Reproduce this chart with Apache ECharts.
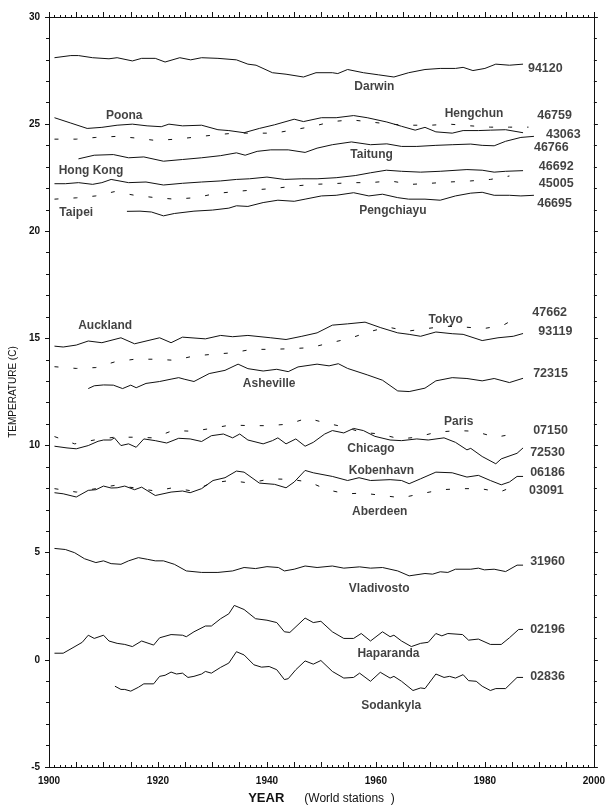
<!DOCTYPE html>
<html>
<head>
<meta charset="utf-8">
<script src="https://cdn.jsdelivr.net/npm/echarts@6/dist/echarts.min.js"></script>
<style>
  html, body { margin: 0; padding: 0; background: #fff; }
  #chart { width: 608px; height: 810px; }
</style>
</head>
<body>
<div id="chart"></div>
<script>
// ---- Data (year, temperature °C) ----
const s94120 = [[1901,28.1],[1904,28.2],[1905.4,28.2],[1908,28.1],[1911,28.05],[1912.5,28.1],[1915.3,27.95],[1917,28.07],[1919.5,28.07],[1921.3,27.9],[1924,28.1],[1926,28.0],[1928,28.1],[1931,28.07],[1934.4,28.0],[1936.5,27.8],[1938,27.75],[1941,27.4],[1943.5,27.33],[1946.7,27.2],[1949,27.4],[1952,27.4],[1953,27.36],[1954.8,27.55],[1957.7,27.4],[1960.5,27.3],[1963.3,27.2],[1966,27.4],[1969,27.55],[1971.8,27.6],[1974.6,27.6],[1976,27.65],[1977.8,27.5],[1980,27.6],[1982,27.8],[1984.5,27.75],[1987,27.8]];
const s43063 = [[1901,25.3],[1904,25.05],[1907,24.8],[1909.7,24.85],[1912.5,24.95],[1915.3,25.0],[1918,24.92],[1920.6,24.88],[1922,25.0],[1924.5,24.92],[1928,24.95],[1931,24.74],[1933,24.7],[1935.8,24.6],[1938.6,24.8],[1941.4,24.97],[1945,25.23],[1946.7,25.12],[1950,25.3],[1952.7,25.3],[1955.9,25.4],[1958.4,25.3],[1962,25.1],[1964.7,24.9],[1967.2,24.72],[1969,24.85],[1971,24.64],[1974,24.58],[1976,24.7],[1978.8,24.7],[1981,24.72],[1983.8,24.74],[1987,24.6]];
const s46759 = [[1901,24.3],[1905,24.3],[1908.6,24.38],[1912.5,24.43],[1916,24.35],[1919.5,24.24],[1923.4,24.3],[1927,24.4],[1930.5,24.5],[1934,24.58],[1937.5,24.58],[1941.4,24.58],[1945,24.74],[1948.5,24.9],[1952,25.12],[1955.5,25.2],[1959,25.1],[1962.6,25.0],[1966,24.95],[1970,24.95],[1973.5,25.0],[1977.4,24.92],[1981,24.86],[1984.5,24.86],[1988,24.86]];
const s46766 = [[1905.4,23.38],[1908.3,23.55],[1911.8,23.58],[1914.6,23.43],[1917.4,23.47],[1921,23.27],[1924.5,23.35],[1928,23.43],[1931.5,23.53],[1934.4,23.66],[1936,23.55],[1938.2,23.73],[1940.7,23.8],[1943.9,23.8],[1947,23.68],[1949.2,23.88],[1952,24.04],[1955.5,24.17],[1959,24.04],[1962,24.08],[1964.7,23.96],[1967.5,23.96],[1971,24.01],[1974,24.04],[1977.4,24.07],[1979.5,24.01],[1981.7,23.99],[1983.8,24.2],[1986.6,24.38],[1989,24.43]];
const s46692 = [[1901,22.22],[1903,22.22],[1905.4,22.27],[1908,22.19],[1909.7,22.27],[1911.4,22.42],[1914.6,22.27],[1917.8,22.3],[1921,22.16],[1924.5,22.24],[1928,22.3],[1931.5,22.35],[1934.4,22.42],[1936.8,22.45],[1940,22.53],[1943.2,22.42],[1946.4,22.45],[1949.2,22.45],[1952.7,22.5],[1956.2,22.6],[1959,22.73],[1961.9,22.85],[1964.7,22.8],[1968.2,22.76],[1971.8,22.8],[1976.7,22.88],[1979.5,22.85],[1981.7,22.76],[1983.8,22.8],[1987,22.83]];
const s45005 = [[1901,21.5],[1905,21.56],[1908.6,21.65],[1912,21.85],[1915.7,21.68],[1919.5,21.57],[1923,21.5],[1927,21.57],[1930.5,21.76],[1934,21.85],[1937.5,21.93],[1941.4,22.0],[1945,22.11],[1948.5,22.19],[1952,22.22],[1955.5,22.27],[1959,22.27],[1962.6,22.35],[1966.5,22.19],[1970,22.24],[1973.5,22.3],[1977.4,22.35],[1981,22.42],[1984.5,22.58]];
const s46695 = [[1914.3,20.93],[1916.7,20.94],[1918.8,20.9],[1921,20.72],[1923,20.83],[1926.6,20.94],[1930,20.99],[1933,21.08],[1934.4,21.19],[1936.5,21.16],[1939.3,21.34],[1942,21.45],[1945,21.4],[1947,21.5],[1950,21.65],[1952.7,21.68],[1955.9,21.8],[1958.7,21.65],[1961.2,21.73],[1964,21.57],[1966,21.5],[1969,21.5],[1971.8,21.45],[1974.6,21.65],[1977.4,21.78],[1979.5,21.82],[1981.7,21.68],[1984.5,21.68],[1986.6,21.65],[1989,21.68]];
const s93119 = [[1901,14.64],[1902.6,14.6],[1905,14.69],[1907.2,14.88],[1909.7,14.8],[1913.2,15.03],[1915.7,14.75],[1920.3,15.03],[1922.4,14.8],[1924.5,15.06],[1928.7,14.98],[1931.5,15.14],[1933.7,15.08],[1936.5,15.14],[1940.7,15.03],[1943.5,14.95],[1946.4,15.1],[1949.2,15.26],[1952,15.62],[1954.8,15.68],[1958,15.76],[1960.9,15.5],[1964,15.26],[1966.1,15.19],[1968.2,15.1],[1971,15.3],[1974,15.22],[1976,15.19],[1979.5,14.9],[1982.4,15.03],[1985.2,15.1],[1987,15.23]];
const s47662 = [[1901,13.68],[1905,13.6],[1908.6,13.64],[1912,13.9],[1915.7,14.03],[1919.5,14.03],[1923,13.98],[1926.6,14.18],[1930,14.26],[1933.7,14.33],[1937.2,14.49],[1940.7,14.49],[1944.3,14.52],[1948,14.57],[1951.7,14.8],[1955.2,15.0],[1958.7,15.31],[1962.2,15.53],[1965.8,15.34],[1969.3,15.46],[1972.8,15.57],[1976.3,15.53],[1979.8,15.46],[1983.4,15.62],[1985.2,15.88]];
const s72315 = [[1907.2,12.66],[1908.3,12.79],[1910,12.83],[1911.8,12.82],[1913.5,12.66],[1915,12.82],[1916,12.7],[1917.8,12.9],[1920.3,12.99],[1922.4,13.1],[1923.8,13.17],[1924.8,13.1],[1926.6,12.99],[1929.4,13.36],[1932.3,13.51],[1934.7,13.8],[1936.5,13.59],[1939.3,13.48],[1941.8,13.56],[1943.9,13.45],[1945.7,13.67],[1949.2,13.8],[1951.4,13.72],[1953.1,13.82],[1954.8,13.6],[1958.4,13.3],[1961.2,13.05],[1964,12.55],[1966.1,12.52],[1969,12.68],[1971,13.02],[1974,13.17],[1976.7,13.13],[1979.5,13.02],[1981.7,13.13],[1984.5,12.94],[1987,13.14]];
const s07150 = [[1901,10.42],[1904.7,10.08],[1908.3,10.26],[1912,10.39],[1915.7,10.39],[1919.2,10.36],[1922.7,10.7],[1926.3,10.67],[1929.8,10.8],[1933.3,10.96],[1936.8,10.93],[1940.4,10.93],[1943.9,11.0],[1947.4,11.28],[1951,11.04],[1954.5,10.85],[1957.3,10.62],[1960.8,10.54],[1964.4,10.31],[1967.5,10.39],[1971,10.62],[1974.9,10.7],[1978,10.67],[1982,10.39],[1985.2,10.54]];
const s72530 = [[1901,9.97],[1903.3,9.89],[1905,9.85],[1907.2,10.0],[1909,10.2],[1910,10.26],[1911.4,10.26],[1912,10.36],[1913.2,10.0],[1914.6,10.08],[1916,9.92],[1917.4,10.31],[1919.5,10.23],[1921.6,10.12],[1923.8,10.34],[1925.9,10.31],[1928,10.19],[1929.8,10.46],[1932,10.54],[1933.7,10.36],[1935,10.54],[1936.5,10.26],[1939.3,10.08],[1941,10.23],[1942,10.36],[1943.5,10.08],[1945.3,10.31],[1947,9.97],[1948.5,10.15],[1950.6,10.54],[1952,10.7],[1954.1,10.59],[1955.9,10.8],[1957.7,10.7],[1959.8,10.43],[1962.6,10.26],[1964.7,10.23],[1967.5,10.31],[1969.6,10.26],[1972.5,10.36],[1974.6,10.15],[1976.7,9.8],[1977.4,9.87],[1979.5,9.49],[1982,9.15],[1983,9.38],[1985.9,9.64],[1987,9.89]];
const s06186 = [[1901,7.8],[1902.6,7.75],[1905,7.6],[1907.2,7.91],[1908.6,7.94],[1910,8.11],[1911.4,8.02],[1912.5,8.03],[1913.9,8.11],[1915.7,7.94],[1917,8.06],[1919.5,7.67],[1922.4,7.83],[1924.5,7.88],[1925.9,7.8],[1928,7.99],[1930.1,8.37],[1932.3,8.5],[1934.4,8.81],[1935.8,8.76],[1938.6,8.25],[1941.4,8.19],[1943.5,8.03],[1945,8.3],[1947,8.84],[1948.5,8.73],[1952,8.56],[1954.8,8.37],[1956.9,8.5],[1959,8.37],[1962.6,8.41],[1964.7,8.37],[1966.1,8.22],[1968.2,8.45],[1971,8.76],[1974,8.73],[1976.7,8.53],[1978.8,8.61],[1981,8.37],[1983,8.17],[1984.5,8.3],[1985.9,8.56],[1987,8.56]];
const s03091 = [[1901,7.99],[1905,7.83],[1908.6,7.99],[1912,8.14],[1915.7,8.03],[1919.5,7.88],[1922.7,8.03],[1926.3,7.88],[1929.8,8.25],[1933.3,8.37],[1936.8,8.25],[1940.7,8.45],[1944.3,8.42],[1947.8,8.3],[1951,7.94],[1954.5,7.75],[1957.7,7.78],[1961.2,7.67],[1964.7,7.56],[1968.2,7.75],[1972.1,7.94],[1975.6,7.99],[1979.2,7.99],[1982.7,7.83],[1986.2,8.19]];
const s31960 = [[1901,5.2],[1903,5.15],[1904.7,5.0],[1906.5,4.72],[1908.6,4.54],[1910,4.62],[1911.4,4.49],[1913.2,4.46],[1914.6,4.62],[1916.4,4.77],[1918.1,4.69],[1919.5,4.62],[1921,4.62],[1923,4.46],[1925.2,4.15],[1928,4.08],[1931,4.08],[1933.7,4.15],[1935.8,4.31],[1937.9,4.26],[1940,4.35],[1942.1,4.31],[1943.2,4.15],[1945,4.23],[1947,4.38],[1949.2,4.31],[1952,4.38],[1954.1,4.28],[1957,4.34],[1959,4.28],[1961.2,4.31],[1964,4.15],[1966.1,3.92],[1969,4.03],[1970.4,4.0],[1971.8,4.11],[1973.2,4.08],[1974.6,4.23],[1977.4,4.23],[1978.8,4.28],[1979.9,4.2],[1981.7,4.23],[1983.8,4.12],[1985.9,4.42],[1987,4.42]];
const s02196 = [[1901,0.31],[1902.6,0.31],[1904.4,0.57],[1906.1,0.82],[1907.2,1.15],[1908.3,1.0],[1910,1.15],[1911,0.88],[1912.5,0.77],[1913.9,0.72],[1915.3,0.62],[1917,0.88],[1919.2,0.69],[1920.3,1.03],[1922.4,1.18],[1924.5,1.15],[1925.2,1.08],[1926.6,1.31],[1928.7,1.58],[1929.8,1.58],[1931.5,1.92],[1933,2.15],[1934,2.54],[1935.8,2.35],[1937.9,1.92],[1940,1.85],[1941.8,1.74],[1943.2,1.31],[1944.2,1.28],[1947,1.95],[1948.5,1.74],[1949.9,1.8],[1952,1.31],[1954.1,1.0],[1955.9,1.0],[1957.3,1.23],[1959,0.88],[1961.2,1.31],[1962.6,1.08],[1963.3,1.15],[1964.7,0.88],[1966.5,0.62],[1968.2,0.77],[1969.6,0.82],[1971,1.23],[1972.1,1.12],[1973.2,1.23],[1975.9,1.18],[1977,0.92],[1978.8,0.97],[1981,0.72],[1983,0.72],[1984.5,1.03],[1986.2,1.42],[1987,1.42]];
const s02836 = [[1912.1,-1.23],[1913.2,-1.38],[1913.9,-1.38],[1915,-1.46],[1916.4,-1.28],[1917.4,-1.12],[1919.2,-1.12],[1920.3,-0.77],[1921.3,-0.72],[1922.4,-0.57],[1923.4,-0.66],[1924.5,-0.62],[1925.5,-0.82],[1926.6,-0.77],[1928,-0.66],[1928.7,-0.54],[1929.8,-0.62],[1931.5,-0.35],[1933,-0.15],[1934.4,0.38],[1935.8,0.23],[1937.6,-0.23],[1939,-0.34],[1940.4,-0.31],[1941.8,-0.46],[1943.2,-0.92],[1943.9,-0.88],[1945.3,-0.46],[1947,-0.05],[1948.5,-0.2],[1949.9,-0.03],[1952,-0.54],[1954.1,-0.85],[1955.9,-0.82],[1957,-0.62],[1959,-1.0],[1960.8,-0.58],[1962.6,-0.85],[1963.3,-0.77],[1964.7,-1.0],[1966.8,-1.43],[1968.2,-1.31],[1969,-1.34],[1971,-0.66],[1972.5,-0.82],[1973.5,-0.77],[1974.6,-0.85],[1976,-0.69],[1977,-0.97],[1978.4,-1.0],[1979.5,-1.23],[1981,-1.43],[1982,-1.34],[1983.8,-1.34],[1985.9,-0.82],[1987,-0.82]];

// Station-number labels (left edge year, value, text)
const stationLabels = [[1987.9,27.58,'94120'],[1989.6,25.40,'46759'],[1991.2,24.52,'43063'],[1989.0,23.92,'46766'],[1989.9,23.04,'46692'],[1989.9,22.21,'45005'],[1989.6,21.28,'46695'],[1988.7,16.22,'47662'],[1989.8,15.30,'93119'],[1988.85,13.35,'72315'],[1988.85,10.69,'07150'],[1988.3,9.67,'72530'],[1988.3,8.74,'06186'],[1988.1,7.91,'03091'],[1988.3,4.57,'31960'],[1988.3,1.42,'02196'],[1988.3,-0.80,'02836']];
// City-name labels (centre year, value, text)
const cityLabels = [[1959.7,26.73,'Darwin'],[1913.8,25.40,'Poona'],[1978.0,25.49,'Hengchun'],[1959.2,23.59,'Taitung'],[1907.7,22.85,'Hong Kong'],[1905.0,20.89,'Taipei'],[1963.1,20.95,'Pengchiayu'],[1910.3,15.61,'Auckland'],[1972.8,15.87,'Tokyo'],[1940.4,12.87,'Asheville'],[1975.2,11.13,'Paris'],[1959.1,9.86,'Chicago'],[1961.0,8.83,'Kobenhavn'],[1960.7,6.93,'Aberdeen'],[1960.6,3.34,'Vladivosto'],[1962.3,0.27,'Haparanda'],[1962.8,-2.16,'Sodankyla']];

const solidSeries = [s94120, s43063, s46766, s46692, s46695, s93119, s72315, s72530, s06186, s31960, s02196, s02836];
const dashedSeries = [s46759, s45005, s47662, s07150, s03091];

const FONT = "'Liberation Sans', Arial, Helvetica, sans-serif";
const chart = echarts.init(document.getElementById('chart'), null, { renderer: 'canvas' });

const series = [];
solidSeries.forEach(d => series.push({
  type: 'line', data: d, symbol: 'none', silent: true, animation: false,
  lineStyle: { color: '#111', width: 1, type: 'solid' }
}));
dashedSeries.forEach(d => series.push({
  type: 'line', data: d, symbol: 'none', silent: true, animation: false,
  lineStyle: { color: '#111', width: 1, type: [4, 15] }
}));
series.push({
  type: 'scatter', symbolSize: 0, silent: true, animation: false,
  data: stationLabels.map(r => ({ value: [r[0], r[1]], name: r[2] })),
  label: { show: true, position: 'right', distance: 0, formatter: p => p.name,
    color: '#111', fontFamily: FONT, fontSize: 12.5, fontWeight: 'bold', align: 'left', verticalAlign: 'middle' }
});
series.push({
  type: 'scatter', symbolSize: 0, silent: true, animation: false,
  data: cityLabels.map(r => ({ value: [r[0], r[1]], name: r[2] })),
  label: { show: true, position: 'inside', formatter: p => p.name,
    color: '#111', fontFamily: FONT, fontSize: 12, fontWeight: 'bold', align: 'center', verticalAlign: 'middle' }
});

const axisLine = { show: true, onZero: false, lineStyle: { color: '#111', width: 1 } };
chart.setOption({
  backgroundColor: '#fff',
  animation: false,
  grid: { left: 48, right: 10, top: 17, bottom: 38, containLabel: false },
  xAxis: [
    {
      type: 'value', position: 'bottom', min: 1900, max: 2000, interval: 5,
      axisLine, splitLine: { show: false },
      axisTick: { show: true, inside: true, length: 5, lineStyle: { color: '#111' } },
      minorTick: { show: true, splitNumber: 5, length: 2, lineStyle: { color: '#111' } },
      axisLabel: { formatter: v => (v % 20 === 0 ? String(v) : ''), color: '#111', fontFamily: FONT,
        fontSize: 10, fontWeight: 'bold', margin: 9 },
      name: '{a|YEAR}      {b|(World stations  )}', nameLocation: 'middle', nameGap: 25,
      nameTextStyle: { rich: {
        a: { fontFamily: FONT, fontSize: 13, fontWeight: 'bold', color: '#111' },
        b: { fontFamily: FONT, fontSize: 12, color: '#111' } } }
    },
    {
      type: 'value', position: 'top', min: 1900, max: 2000, interval: 5,
      axisLine, splitLine: { show: false },
      axisTick: { show: true, inside: false, length: 5, lineStyle: { color: '#111' } },
      minorTick: { show: true, splitNumber: 5, length: 2, lineStyle: { color: '#111' } },
      axisLabel: { show: false }
    }
  ],
  yAxis: [
    {
      type: 'value', position: 'left', min: -5, max: 30, interval: 5,
      axisLine, splitLine: { show: false },
      axisTick: { show: true, inside: false, length: 4, lineStyle: { color: '#111' } },
      minorTick: { show: true, splitNumber: 5, length: 3, lineStyle: { color: '#111' } },
      axisLabel: { color: '#111', fontFamily: FONT, fontSize: 10, fontWeight: 'bold', margin: 9 },
      name: 'TEMPERATURE (C)', nameLocation: 'middle', nameGap: 31,
      nameTextStyle: { fontFamily: FONT, fontSize: 10, color: '#111' }
    },
    {
      type: 'value', position: 'right', min: -5, max: 30, interval: 5,
      axisLine, splitLine: { show: false },
      axisTick: { show: true, inside: false, length: 4, lineStyle: { color: '#111' } },
      minorTick: { show: true, splitNumber: 5, length: 3, lineStyle: { color: '#111' } },
      axisLabel: { show: false }
    }
  ],
  series
});
</script>
</body>
</html>
